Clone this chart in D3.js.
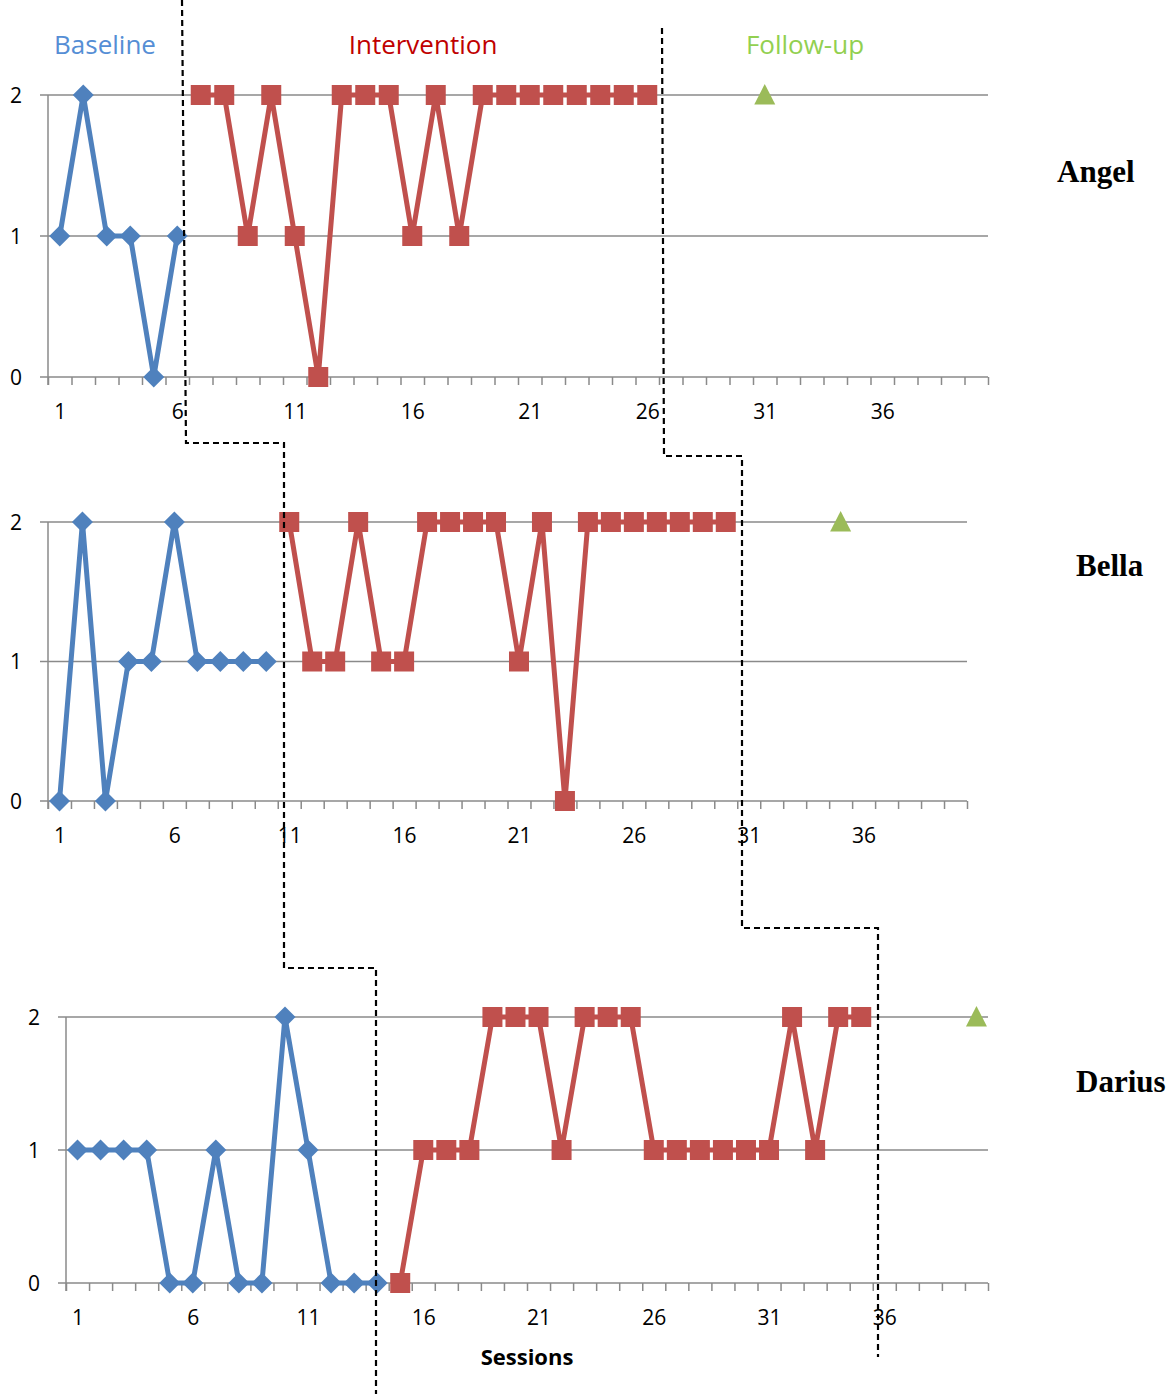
<!DOCTYPE html>
<html>
<head>
<meta charset="utf-8">
<script src="https://cdn.jsdelivr.net/npm/d3@7/dist/d3.min.js"></script>
<style>
  html, body { margin: 0; padding: 0; background: #fff; }
  svg { display: block; }
</style>
</head>
<body>
<svg id="chart" width="1175" height="1394"></svg>
<script>
// ---------------- DATA ----------------
const sessionCount = 40;                       // categories on the x axis: sessions 1..40
const xTickLabels = [1, 6, 11, 16, 21, 26, 31, 36];
const yTickValues = [0, 1, 2];
const phaseLabels = ["Baseline", "Intervention", "Follow-up"];
const participants = ["Angel", "Bella", "Darius"];

// Angel
const angelBaselineStart = 1;
const angelBaseline = [1, 2, 1, 1, 0, 1];
const angelInterventionStart = 7;
const angelIntervention = [2, 2, 1, 2, 1, 0, 2, 2, 2, 1, 2, 1, 2, 2, 2, 2, 2, 2, 2, 2];
const angelFollowupSession = 31;
const angelFollowup = [2];

// Bella
const bellaBaselineStart = 1;
const bellaBaseline = [0, 2, 0, 1, 1, 2, 1, 1, 1, 1];
const bellaInterventionStart = 11;
const bellaIntervention = [2, 1, 1, 2, 1, 1, 2, 2, 2, 2, 1, 2, 0, 2, 2, 2, 2, 2, 2, 2];
const bellaFollowupSession = 35;
const bellaFollowup = [2];

// Darius
const dariusBaselineStart = 1;
const dariusBaseline = [1, 1, 1, 1, 0, 0, 1, 0, 0, 2, 1, 0, 0, 0];
const dariusInterventionStart = 15;
const dariusIntervention = [0, 1, 1, 1, 2, 2, 2, 1, 2, 2, 2, 1, 1, 1, 1, 1, 1, 2, 1, 2, 2];
const dariusFollowupSession = 40;
const dariusFollowup = [2];

// ---------------- LAYOUT / STYLE ----------------
const colors = { baseline: "#4F81BD", intervention: "#C0504D", followup: "#9BBB59" };
const labelColors = ["#558ED5", "#C00000", "#92D050"];
const gridColor = "#8a8a8a";
const tickFont = "'Open Sans', sans-serif";

const panels = [
  { name: participants[0], x0: 48, x1: 988, yTop: 95, yBot: 377, nameX: 1057, nameY: 182,
    series: [
      { start: angelBaselineStart, values: angelBaseline, kind: "baseline" },
      { start: angelInterventionStart, values: angelIntervention, kind: "intervention" },
      { start: angelFollowupSession, values: angelFollowup, kind: "followup" } ] },
  { name: participants[1], x0: 48, x1: 967, yTop: 522, yBot: 801, nameX: 1076, nameY: 576,
    series: [
      { start: bellaBaselineStart, values: bellaBaseline, kind: "baseline" },
      { start: bellaInterventionStart, values: bellaIntervention, kind: "intervention" },
      { start: bellaFollowupSession, values: bellaFollowup, kind: "followup" } ] },
  { name: participants[2], x0: 66, x1: 988, yTop: 1017, yBot: 1283, nameX: 1076, nameY: 1092,
    series: [
      { start: dariusBaselineStart, values: dariusBaseline, kind: "baseline" },
      { start: dariusInterventionStart, values: dariusIntervention, kind: "intervention" },
      { start: dariusFollowupSession, values: dariusFollowup, kind: "followup" } ] }
];

const svg = d3.select("#chart");
svg.append("rect").attr("width", 1175).attr("height", 1394).attr("fill", "#fff");

// phase headings
const headingX = [105, 423, 805];
svg.selectAll("text.phase").data(phaseLabels).enter().append("text")
  .attr("class", "phase")
  .attr("x", (d, i) => headingX[i]).attr("y", 54)
  .attr("text-anchor", "middle")
  .attr("font-family", tickFont).attr("font-size", 26)
  .attr("fill", (d, i) => labelColors[i])
  .text(d => d);

const tickLen = 8;

panels.forEach(p => {
  const g = svg.append("g");
  const x = d3.scaleLinear().domain([0.5, sessionCount + 0.5]).range([p.x0, p.x1]);
  const y = d3.scaleLinear().domain([0, 2]).range([p.yBot, p.yTop]);

  // horizontal gridlines (and x axis line) with left tick extension
  g.selectAll("line.grid").data(yTickValues).enter().append("line")
    .attr("x1", p.x0 - tickLen).attr("x2", p.x1)
    .attr("y1", d => y(d)).attr("y2", d => y(d))
    .attr("stroke", gridColor).attr("stroke-width", 1.5);

  // vertical axis line
  g.append("line")
    .attr("x1", p.x0).attr("x2", p.x0)
    .attr("y1", y(2)).attr("y2", y(0) + tickLen)
    .attr("stroke", gridColor).attr("stroke-width", 1.5);

  // x tick marks at category boundaries
  const bounds = d3.range(0, sessionCount + 1).map(i => i + 0.5);
  const xTicks = d3.axisBottom(x).tickValues(bounds).tickSize(tickLen).tickFormat("");
  const ax = g.append("g").attr("transform", `translate(0,${y(0)})`).call(xTicks);
  ax.select(".domain").remove();
  ax.selectAll(".tick line").attr("stroke", gridColor).attr("stroke-width", 1.5);

  // x tick labels
  const xLab = d3.axisBottom(x).tickValues(xTickLabels).tickSize(0).tickPadding(0).tickFormat(d3.format("d"));
  const axl = g.append("g").attr("transform", `translate(0,${y(0)})`).call(xLab);
  axl.select(".domain").remove();
  axl.selectAll(".tick text")
    .attr("y", 42).attr("dy", null)
    .attr("font-family", tickFont).attr("font-size", 21).attr("fill", "#000");

  // y tick labels
  const yLab = d3.axisLeft(y).tickValues(yTickValues).tickSize(0).tickPadding(0).tickFormat(d3.format("d"));
  const ayl = g.append("g").attr("transform", `translate(${p.x0 - 26},0)`).call(yLab);
  ayl.select(".domain").remove();
  ayl.selectAll(".tick text")
    .attr("x", 0).attr("dy", "0.35em")
    .attr("font-family", tickFont).attr("font-size", 21).attr("fill", "#000");

  // series
  p.series.forEach(s => {
    const pts = s.values.map((v, i) => ({ session: s.start + i, value: v }));
    const col = colors[s.kind];
    if (pts.length > 1) {
      g.append("path").datum(pts)
        .attr("fill", "none").attr("stroke", col).attr("stroke-width", 5)
        .attr("stroke-linejoin", "round")
        .attr("d", d3.line().x(d => x(d.session)).y(d => y(d.value)));
    }
    const mg = g.append("g");
    if (s.kind === "baseline") {
      mg.selectAll("path").data(pts).enter().append("path")
        .attr("transform", d => `translate(${x(d.session)},${y(d.value)})`)
        .attr("d", "M0,-10.5L10.5,0L0,10.5L-10.5,0Z")
        .attr("fill", col);
    } else if (s.kind === "intervention") {
      mg.selectAll("rect").data(pts).enter().append("rect")
        .attr("x", d => x(d.session) - 10).attr("y", d => y(d.value) - 10)
        .attr("width", 20).attr("height", 20)
        .attr("fill", col);
    } else {
      mg.selectAll("path").data(pts).enter().append("path")
        .attr("transform", d => `translate(${x(d.session)},${y(d.value)})`)
        .attr("d", "M0,-11L10.5,9.5L-10.5,9.5Z")
        .attr("fill", col);
    }
  });

  // participant name
  svg.append("text")
    .attr("x", p.nameX).attr("y", p.nameY)
    .attr("font-family", "'Liberation Serif', 'Times New Roman', serif")
    .attr("font-weight", "bold").attr("font-size", 31)
    .attr("fill", "#000")
    .text(p.name);
});

// axis title
svg.append("text")
  .attr("x", 527).attr("y", 1365)
  .attr("text-anchor", "middle")
  .attr("font-family", tickFont).attr("font-weight", "bold").attr("font-size", 22)
  .attr("fill", "#000")
  .text("Sessions");

// phase-change lines
const phaseLine1 = [[182, 0], [186, 443], [284, 443], [284, 968], [376, 968], [376, 1394]];
const phaseLine2 = [[662, 28], [664, 456], [742, 456], [742, 928], [878, 928], [878, 1357]];
[phaseLine1, phaseLine2].forEach(pl => {
  svg.append("path").datum(pl)
    .attr("d", d3.line())
    .attr("fill", "none").attr("stroke", "#000").attr("stroke-width", 2.2)
    .attr("stroke-dasharray", "6,4");
});
</script>
</body>
</html>
